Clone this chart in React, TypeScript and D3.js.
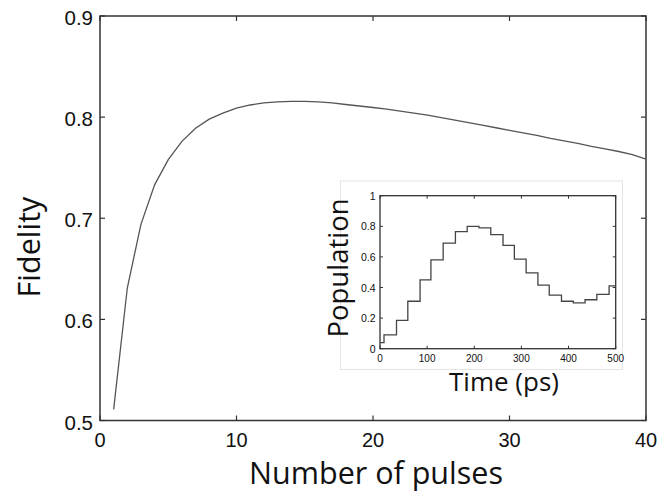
import React from "react";
import * as d3 from "d3";

const pulses = [1,2,3,4,5,6,7,8,9,10,11,12,13,14,15,16,17,18,19,20,21,22,23,24,25,26,27,28,29,30,31,32,33,34,35,36,37,38,39,40];
const fidelity = [0.511,0.631,0.694,0.733,0.758,0.776,0.789,0.798,0.804,0.809,0.812,0.814,0.815,0.8155,0.8155,0.815,0.814,0.8125,0.811,0.8095,0.808,0.806,0.804,0.802,0.7995,0.797,0.7945,0.792,0.7895,0.787,0.7845,0.782,0.779,0.7765,0.774,0.771,0.7685,0.766,0.763,0.7585];
const xTicks = [0,10,20,30,40];
const yTicks = [0.5,0.6,0.7,0.8,0.9];

const stepTimes = [0,8.5,35,59,85,108,134,160,185,210,235,261,285,310,335,359,385,410,435,460,486,500];
const population = [0.04,0.09,0.185,0.31,0.45,0.58,0.69,0.765,0.8,0.79,0.745,0.675,0.585,0.495,0.415,0.35,0.31,0.3,0.32,0.355,0.41,0.41];
const inXTicks = [0,100,200,300,400,500];
const inYTicks = [0,0.2,0.4,0.6,0.8,1];

const labelFont = "'Open Sans', sans-serif";
const tickFont = "'Liberation Sans', Arial, sans-serif";

export default function App() {
  const x = d3.scaleLinear().domain([0, 40]).range([100, 646]);
  const y = d3.scaleLinear().domain([0.5, 0.9]).range([420.5, 16]);
  const line = d3.line<number>().x((_, i) => x(pulses[i])).y((d) => y(d));

  const ix = d3.scaleLinear().domain([0, 500]).range([380, 615.7]);
  const iy = d3.scaleLinear().domain([0, 1]).range([348.7, 195.7]);
  const stepLine = d3.line<number>().x((_, i) => ix(stepTimes[i])).y((d) => iy(d)).curve(d3.curveStepAfter);

  const axisColor = "#333";
  const tl = 5;
  const itl = 3;

  return (
    <svg width={660} height={494} style={{ position: "absolute", left: 0, top: 0, background: "#fff" }}>
      {/* main plot frame */}
      <rect x={100} y={16} width={546} height={404.5} fill="#fff" stroke={axisColor} strokeWidth={1.5} />
      {xTicks.map((t) => (
        <g key={"xt" + t}>
          <line x1={x(t)} x2={x(t)} y1={420.5} y2={420.5 - tl} stroke={axisColor} strokeWidth={1.2} />
          <line x1={x(t)} x2={x(t)} y1={16} y2={16 + tl} stroke={axisColor} strokeWidth={1.2} />
          <text x={x(t)} y={440} textAnchor="middle" dominantBaseline="central" fontFamily={tickFont} fontSize={20} fill="#111">{t}</text>
        </g>
      ))}
      {yTicks.map((t) => (
        <g key={"yt" + t}>
          <line x1={100} x2={100 + tl} y1={y(t)} y2={y(t)} stroke={axisColor} strokeWidth={1.2} />
          <line x1={646} x2={646 - tl} y1={y(t)} y2={y(t)} stroke={axisColor} strokeWidth={1.2} />
          <text x={93} y={y(t) + 1.5} textAnchor="end" dominantBaseline="central" fontFamily={tickFont} fontSize={20.5} fill="#111">{t.toFixed(1)}</text>
        </g>
      ))}
      <path d={line(fidelity) || ""} fill="none" stroke="#555" strokeWidth={1.3} />
      <text x={376} y={484} textAnchor="middle" fontFamily={labelFont} fontSize={30.5} fill="#111">Number of pulses</text>
      <text transform="translate(40,247) rotate(-90)" textAnchor="middle" fontFamily={labelFont} fontSize={30.5} fill="#111">Fidelity</text>

      {/* inset */}
      <rect x={340.5} y={181} width={282} height={188.5} fill="#fff" stroke="#e4e4e4" strokeWidth={1} />
      <rect x={380} y={195.7} width={235.7} height={153} fill="none" stroke={axisColor} strokeWidth={1.3} />
      {inXTicks.map((t) => (
        <g key={"ixt" + t}>
          <line x1={ix(t)} x2={ix(t)} y1={348.7} y2={348.7 - itl} stroke={axisColor} strokeWidth={1} />
          <line x1={ix(t)} x2={ix(t)} y1={195.7} y2={195.7 + itl} stroke={axisColor} strokeWidth={1} />
          <text x={ix(t)} y={358} textAnchor="middle" dominantBaseline="central" fontFamily={tickFont} fontSize={10} fill="#111">{t}</text>
        </g>
      ))}
      {inYTicks.map((t) => (
        <g key={"iyt" + t}>
          <line x1={380} x2={380 + itl} y1={iy(t)} y2={iy(t)} stroke={axisColor} strokeWidth={1} />
          <line x1={615.7} x2={615.7 - itl} y1={iy(t)} y2={iy(t)} stroke={axisColor} strokeWidth={1} />
          <text x={375.5} y={iy(t)} textAnchor="end" dominantBaseline="central" fontFamily={tickFont} fontSize={10.5} fill="#111">{t === 0 || t === 1 ? String(t) : t.toFixed(1)}</text>
        </g>
      ))}
      <path d={stepLine(population) || ""} fill="none" stroke="#444" strokeWidth={1.3} />
      <text x={504} y={391} textAnchor="middle" fontFamily={labelFont} fontSize={26} fill="#111">Time (ps)</text>
      <text transform="translate(348,268) rotate(-90)" textAnchor="middle" fontFamily={labelFont} fontSize={27.5} fill="#111">Population</text>
    </svg>
  );
}
